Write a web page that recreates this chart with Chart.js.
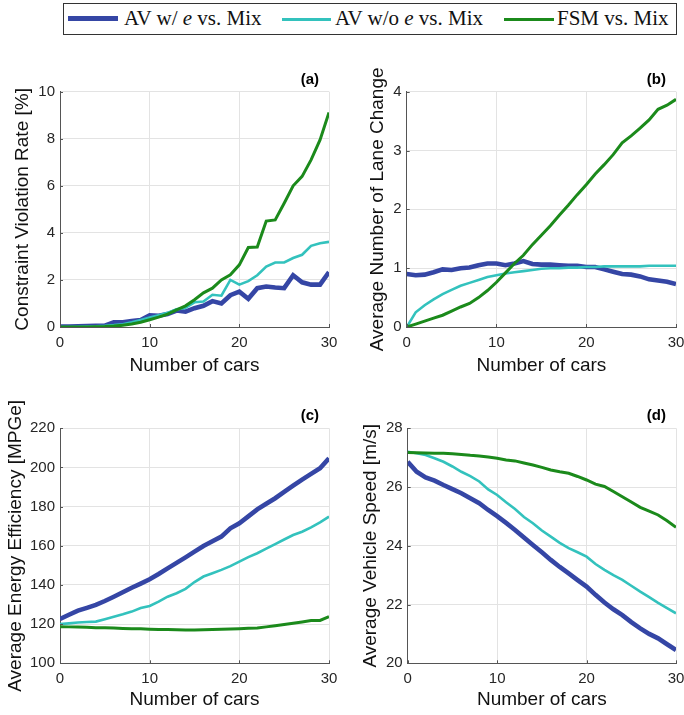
<!DOCTYPE html>
<html lang="en">
<head>
<meta charset="UTF-8">
<title>Number of cars comparison</title>
<script src="https://cdn.jsdelivr.net/npm/chart.js@4.4.1/dist/chart.umd.min.js"></script>
<style>
    body{
        margin: 0;
        padding: 0;
        background: white;
        width: 684px;
        height: 715px;
        position: relative;
        overflow: hidden;
    }
    canvas{
        position: absolute;
    }
    #legend{
        position: absolute;
        left: 63px;
        top: 3px;
        width: 612px;
        height: 30px;
        border: 1px solid #333;
        background: white;
        font-family: 'Liberation Serif', serif;
        font-size: 21px;
        color: #111;
    }
    #legend .ln{
        position: absolute;
        top: 14px;
        height: 4px;
    }
    #legend .tx{
        position: absolute;
        top: 2px;
        white-space: nowrap;
    }
</style>
</head>
<body>
    <div id="legend">
        <div class="ln" style="left:4px;width:50px;background:#3546a5;height:5px;top:12px"></div>
        <div class="tx" style="left:60px">AV w/ <i>e</i> vs. Mix</div>
        <div class="ln" style="left:218px;width:49px;background:#33c2bd;height:3px;top:14px"></div>
        <div class="tx" style="left:271px">AV w/o <i>e</i> vs. Mix</div>
        <div class="ln" style="left:440px;width:50px;background:#1b8a1b;height:3px;top:14px"></div>
        <div class="tx" style="left:493px">FSM vs. Mix</div>
    </div>
    <canvas id="pa" width="342" height="340" style="left:0;top:40px"></canvas>
    <canvas id="pb" width="342" height="340" style="left:342px;top:40px"></canvas>
    <canvas id="pc" width="342" height="335" style="left:0;top:380px"></canvas>
    <canvas id="pd" width="342" height="335" style="left:342px;top:380px"></canvas>
<script>
// number of cars, 0..30
const cars = [0,1,2,3,4,5,6,7,8,9,10,11,12,13,14,15,16,17,18,19,20,21,22,23,24,25,26,27,28,29,30];
const seriesNames = ['AV w/ e vs. Mix', 'AV w/o e vs. Mix', 'FSM vs. Mix'];

// (a) constraint violation rate [%]
const violBlue  = [0.02,0.02,0.03,0.04,0.05,0.06,0.2,0.2,0.25,0.3,0.5,0.48,0.55,0.7,0.65,0.8,0.9,1.1,1.0,1.35,1.5,1.2,1.65,1.72,1.68,1.65,2.2,1.9,1.8,1.8,2.33];
const violCyan  = [0.0,0.0,0.01,0.02,0.03,0.05,0.08,0.12,0.2,0.3,0.4,0.5,0.6,0.75,0.82,1.05,1.08,1.37,1.33,2.0,1.8,1.95,2.2,2.57,2.74,2.74,2.93,3.07,3.45,3.56,3.62];
const violGreen = [0.0,0.0,0.0,0.0,0.01,0.02,0.04,0.07,0.13,0.2,0.31,0.42,0.55,0.73,0.9,1.16,1.45,1.65,2.0,2.22,2.64,3.38,3.4,4.5,4.55,5.26,6.0,6.4,7.1,7.95,9.12];

// (b) average number of lane change
const laneBlue  = [0.9,0.88,0.89,0.93,0.98,0.97,1.0,1.01,1.05,1.08,1.08,1.05,1.08,1.12,1.07,1.06,1.06,1.05,1.04,1.04,1.02,1.02,0.98,0.94,0.9,0.89,0.86,0.81,0.79,0.77,0.73];
const laneCyan  = [0.0,0.25,0.37,0.47,0.56,0.63,0.7,0.75,0.8,0.85,0.88,0.91,0.93,0.95,0.97,0.99,1.0,1.0,1.01,1.01,1.02,1.02,1.03,1.03,1.03,1.03,1.03,1.04,1.04,1.04,1.04];
const laneGreen = [0.0,0.05,0.1,0.15,0.2,0.27,0.34,0.4,0.5,0.62,0.76,0.92,1.08,1.22,1.4,1.56,1.72,1.9,2.07,2.25,2.42,2.6,2.76,2.93,3.13,3.25,3.38,3.52,3.7,3.77,3.87];

// (c) average energy efficiency [MPGe]
const mpgBlue  = [122.6,124.8,126.9,128.3,129.8,131.8,134,136.3,138.6,140.7,142.9,145.6,148.5,151.3,154.1,157,159.9,162.3,164.7,168.9,171.5,175,178.6,181.5,184.3,187.5,190.7,193.8,196.7,199.6,204.7];
const mpgCyan  = [120.1,120.4,120.8,121.1,121.3,122.5,123.8,125,126.4,128.2,129.3,131.5,134,135.8,138,141.5,144.3,146,147.7,149.6,151.9,154.2,156.2,158.6,160.9,163.2,165.5,167.2,169.4,172,174.9];
const mpgGreen = [118.7,118.6,118.5,118.4,118.2,118.1,118,117.8,117.7,117.6,117.4,117.3,117.2,117.1,117,117,117.1,117.2,117.4,117.5,117.7,117.9,118,118.6,119.2,119.8,120.4,121.1,121.8,121.9,123.8];

// (d) average vehicle speed [m/s]
const speedBlue  = [26.86,26.52,26.33,26.22,26.07,25.93,25.79,25.62,25.45,25.22,25.01,24.78,24.54,24.28,24.03,23.78,23.52,23.28,23.06,22.83,22.61,22.33,22.07,21.84,21.64,21.4,21.19,21.0,20.85,20.65,20.45];
const speedCyan  = [27.2,27.15,27.09,26.98,26.86,26.7,26.52,26.37,26.19,25.92,25.73,25.48,25.25,24.98,24.77,24.52,24.31,24.1,23.92,23.78,23.63,23.38,23.18,23.0,22.84,22.64,22.44,22.25,22.06,21.88,21.7];
const speedGreen = [27.18,27.17,27.16,27.15,27.15,27.13,27.11,27.08,27.06,27.02,26.98,26.92,26.89,26.82,26.75,26.67,26.58,26.52,26.47,26.36,26.24,26.1,26.02,25.85,25.67,25.49,25.31,25.18,25.05,24.85,24.63];

const BLUE = '#3546a5', CYAN = '#33c2bd', GREEN = '#1b8a1b';
const SANS = "'Liberation Sans', Arial, sans-serif";

// panel letter + little inward tick marks like matlab
const tagPlugin = {
    id: 'tag',
    afterDraw(chart, args, opts) {
        const ctx = chart.ctx, a = chart.chartArea;
        const xs = chart.scales.x, ys = chart.scales.y;
        ctx.save();
        ctx.strokeStyle = '#555';
        ctx.lineWidth = 1;
        ctx.beginPath();
        xs.ticks.forEach(t => {
            const px = Math.round(xs.getPixelForValue(t.value)) + 0.5;
            ctx.moveTo(px, a.bottom);
            ctx.lineTo(px, a.bottom - 3);
        });
        ys.ticks.forEach(t => {
            const py = Math.round(ys.getPixelForValue(t.value)) + 0.5;
            ctx.moveTo(a.left, py);
            ctx.lineTo(a.left + 3, py);
        });
        ctx.stroke();
        ctx.font = 'bold 15px ' + SANS;
        ctx.fillStyle = '#000';
        ctx.textAlign = 'right';
        ctx.fillText(opts.text, a.right - 10, a.top - 8);
        ctx.restore();
    }
};

function pts(arr) {
    return arr.map((v, i) => ({x: cars[i], y: v}));
}

// box: where the plot area should land inside the canvas
function panel(id, box, y, tag, blue, cyan, green) {
    new Chart(document.getElementById(id), {
        type: 'line',
        data: {
            datasets: [
                {label: seriesNames[2], data: pts(green), borderColor: GREEN, borderWidth: 3},
                {label: seriesNames[1], data: pts(cyan), borderColor: CYAN, borderWidth: 2.6},
                {label: seriesNames[0], data: pts(blue), borderColor: BLUE, borderWidth: 4.6}
            ]
        },
        plugins: [tagPlugin],
        options: {
            responsive: false,
            animation: false,
            elements: {point: {radius: 0}, line: {tension: 0, fill: false}},
            layout: {padding: {left: 0, top: box.top, right: box.right, bottom: 0}},
            plugins: {legend: {display: false}, tooltip: {enabled: false}, tag: {text: tag}},
            scales: {
                x: {
                    type: 'linear', min: 0, max: 30,
                    ticks: {stepSize: 10, color: '#262626', font: {family: SANS, size: 15}, padding: 7},
                    grid: {color: '#e3e3e3', drawTicks: false},
                    border: {color: '#555', width: 1},
                    title: {display: true, text: 'Number of cars', color: '#111',
                            font: {family: SANS, size: 19}, padding: {top: 0, bottom: box.xtp}},
                    afterFit: s => { s.height = box.xh; s.paddingLeft = 0; s.paddingRight = 0; }
                },
                y: {
                    min: y.min, max: y.max,
                    ticks: {stepSize: y.step, color: '#262626', font: {family: SANS, size: 15}, padding: 5},
                    grid: {color: '#e3e3e3', drawTicks: false},
                    border: {color: '#555', width: 1},
                    title: {display: true, text: y.title, color: '#111',
                            font: {family: SANS, size: 19}, padding: {top: box.ytp, bottom: 0}},
                    afterFit: s => { s.width = box.yw; s.paddingTop = 0; s.paddingBottom = 0; }
                }
            }
        }
    });
}

panel('pa', {top: 51.7, right: 13, xh: 53, xtp: 2.6, yw: 60, ytp: 11.6},
      {min: 0, max: 10, step: 2, title: 'Constraint Violation Rate [%]'}, '(a)', violBlue, violCyan, violGreen);
panel('pb', {top: 51.7, right: 8, xh: 53, xtp: 2.6, yw: 64.7, ytp: 24},
      {min: 0, max: 4, step: 1, title: 'Average Number of Lane Change'}, '(b)', laneBlue, laneCyan, laneGreen);
panel('pc', {top: 48.3, right: 13, xh: 51.7, xtp: 3.6, yw: 60, ytp: 4.6},
      {min: 100, max: 220, step: 20, title: 'Average Energy Efficiency [MPGe]'}, '(c)', mpgBlue, mpgCyan, mpgGreen);
panel('pd', {top: 48.3, right: 8, xh: 51.7, xtp: 3.6, yw: 65.7, ytp: 17.6},
      {min: 20, max: 28, step: 2, title: 'Average Vehicle Speed [m/s]'}, '(d)', speedBlue, speedCyan, speedGreen);
</script>
</body>
</html>
